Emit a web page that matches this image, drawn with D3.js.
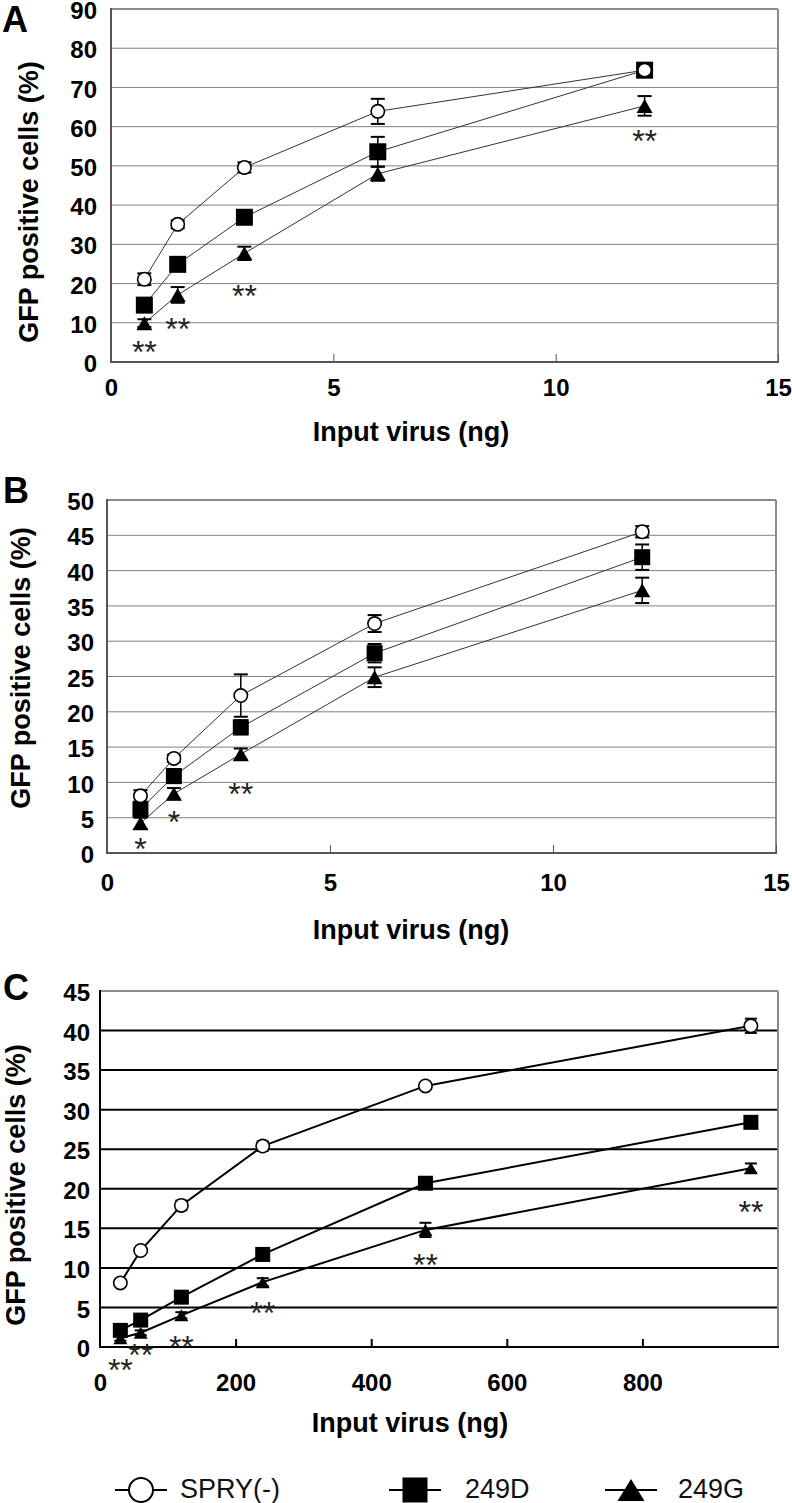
<!DOCTYPE html>
<html><head><meta charset="utf-8">
<script src="https://cdn.jsdelivr.net/npm/d3@7"></script>
<style>body{margin:0;background:#fff} svg{display:block}</style>
</head><body><svg id="c" width="792" height="1503"></svg>
<script>
// ---------- data ----------
const doseAB = [0.75, 1.5, 3, 6, 12];
const doseC = [30, 60, 120, 240, 480, 960];
const seriesNames = ["SPRY(-)", "249D", "249G"];

const A_spry = [21.1, 35.1, 49.6, 63.9, 74.4];
const A_249D = [14.5, 24.9, 36.9, 53.6, 74.4];
const A_249G = [9.9, 17.1, 27.7, 48.0, 65.3];
const A_spryErr = [1.5, 1.0, 1.3, 3.2, 1.0];
const A_249DErr = [1.0, 1.0, 1.0, 3.8, 0.8];
const A_249GErr = [1.0, 2.0, 1.7, 1.8, 2.5];
const A_sigX = [0.75, 1.5, 3, 12];
const A_sigY = [4.4, 10.3, 18.7, 58.3];
const A_sigText = ["**", "**", "**", "**"];

const B_spry = [8.1, 13.4, 22.3, 32.5, 45.5];
const B_249D = [6.2, 10.9, 17.8, 28.3, 41.9];
const B_249G = [4.2, 8.4, 14.0, 24.9, 37.2];
const B_spryErr = [0.8, 0.5, 3.0, 1.2, 0.8];
const B_249DErr = [1.0, 1.0, 1.0, 1.3, 1.8];
const B_249GErr = [0.8, 0.8, 0.8, 1.4, 1.8];
const B_sigX = [0.75, 1.5, 3];
const B_sigY = [1.6, 5.4, 9.4];
const B_sigText = ["*", "*", "**"];

const C_spry = [8.1, 12.2, 17.9, 25.4, 33.0, 40.6];
const C_249D = [2.1, 3.4, 6.3, 11.7, 20.7, 28.4];
const C_249G = [1.1, 1.8, 4.0, 8.2, 14.8, 22.6];
const C_spryErr = [0.3, 0.3, 0.6, 0.6, 0.3, 0.9];
const C_249DErr = [0.3, 0.3, 0.3, 0.3, 0.3, 0.5];
const C_249GErr = [0.3, 0.3, 0.4, 0.5, 0.9, 0.6];
const C_sigX = [30, 60, 120, 240, 480, 960];
const C_sigY = [-2.0, 0.0, 1.0, 5.3, 11.3, 18.0];
const C_sigText = ["**", "**", "**", "**", "**", "**"];

const yTicksA = [0, 10, 20, 30, 40, 50, 60, 70, 80, 90];
const yTicksB = [0, 5, 10, 15, 20, 25, 30, 35, 40, 45, 50];
const yTicksC = [0, 5, 10, 15, 20, 25, 30, 35, 40, 45];
const xTicksAB = [0, 5, 10, 15];
const xTicksC = [0, 200, 400, 600, 800];

const panelLabels = ["A", "B", "C"];
const yTitle = "GFP positive cells (%)";
const xTitle = "Input virus (ng)";

// ---------- drawing ----------
const svg = d3.select("#c");
const FONT = "'Liberation Sans', Arial, Helvetica, sans-serif";

function drawMarker(g, type, cx, cy, sz, sw) {
  if (type === 0) {
    g.append("circle").attr("cx", cx).attr("cy", cy).attr("r", sz.r)
      .attr("fill", "#fff").attr("stroke", "#000").attr("stroke-width", sw);
  } else if (type === 1) {
    g.append("rect").attr("x", cx - sz.sq / 2).attr("y", cy - sz.sq / 2)
      .attr("width", sz.sq).attr("height", sz.sq).attr("fill", "#000");
  } else {
    const w = sz.tw, h = sz.th;
    g.append("path").attr("d", `M${cx},${cy - h / 2}L${cx + w / 2},${cy + h / 2}L${cx - w / 2},${cy + h / 2}Z`)
      .attr("fill", "#000");
  }
}

function drawPanel(p) {
  const x = d3.scaleLinear().domain(p.xDomain).range([p.left, p.right]);
  const y = d3.scaleLinear().domain([0, p.yMax]).range([p.bottom, p.top]);
  const g = svg.append("g");

  // gridlines
  g.append("g").selectAll("line").data(p.yTicks.filter(v => v > 0 && v < p.yMax)).join("line")
    .attr("x1", p.left).attr("x2", p.right).attr("y1", d => y(d)).attr("y2", d => y(d))
    .attr("stroke", p.gridColor).attr("stroke-width", p.gridWidth);

  // frame
  g.append("line").attr("x1", p.left).attr("x2", p.right).attr("y1", p.top).attr("y2", p.top)
    .attr("stroke", "#8a8a8a").attr("stroke-width", 2);
  g.append("line").attr("x1", p.right).attr("x2", p.right).attr("y1", p.top).attr("y2", p.bottom)
    .attr("stroke", "#8a8a8a").attr("stroke-width", 2);
  g.append("line").attr("x1", p.left).attr("x2", p.left).attr("y1", p.top - 1).attr("y2", p.bottom + 1)
    .attr("stroke", p.axisColor).attr("stroke-width", 2);
  g.append("line").attr("x1", p.left).attr("x2", p.right + 1).attr("y1", p.bottom).attr("y2", p.bottom)
    .attr("stroke", p.axisColor).attr("stroke-width", 2);

  // y axis labels
  const ya = g.append("g").attr("transform", `translate(${p.left},0)`)
    .call(d3.axisLeft(y).tickValues(p.yTicks).tickSize(0).tickPadding(p.yPad).tickFormat(d3.format("d")));
  ya.select(".domain").remove();
  ya.selectAll("text").attr("dy", "0.4em").attr("font-family", FONT).attr("font-weight", "bold").attr("font-size", 24).attr("fill", "#000");

  // x axis
  const xa = g.append("g").attr("transform", `translate(0,${p.bottom})`)
    .call(d3.axisBottom(x).tickValues(p.xTicks).tickSizeInner(-8).tickSizeOuter(0).tickPadding(p.xPad).tickFormat(d3.format("d")));
  xa.select(".domain").remove();
  xa.selectAll(".tick line").attr("stroke", p.tickColor).attr("stroke-width", p.tickWidth)
    .attr("display", d => (d === p.xDomain[0] ? "none" : null));
  xa.selectAll("text").attr("font-family", FONT).attr("font-weight", "bold").attr("font-size", 24).attr("fill", "#000");

  // titles
  g.append("text").attr("x", p.xTitleX).attr("y", p.xTitleY).attr("text-anchor", "middle")
    .attr("font-family", FONT).attr("font-weight", "bold").attr("font-size", 27).text(xTitle);
  g.append("text").attr("transform", `translate(${p.yTitleX},${p.yTitleY}) rotate(-90)`).attr("text-anchor", "middle")
    .attr("font-family", FONT).attr("font-weight", "bold").attr("font-size", 27).text(yTitle);
  g.append("text").attr("x", p.labelX).attr("y", p.labelY)
    .attr("font-family", FONT).attr("font-weight", "bold").attr("font-size", 36).text(p.label);

  // lines
  const line = d3.line().x(d => x(d[0])).y(d => y(d[1]));
  p.series.forEach(s => {
    g.append("path").datum(p.dose.map((d, i) => [d, s.values[i]])).attr("d", line)
      .attr("fill", "none").attr("stroke", p.lineColor).attr("stroke-width", p.lineWidth);
  });

  // error bars
  const cap = p.capW / 2;
  p.series.forEach(s => {
    p.dose.forEach((d, i) => {
      const cx = x(d), y0 = y(s.values[i] - s.err[i]), y1 = y(s.values[i] + s.err[i]);
      g.append("line").attr("x1", cx).attr("x2", cx).attr("y1", y0).attr("y2", y1).attr("stroke", "#000").attr("stroke-width", 1.5);
      [y0, y1].forEach(yy => g.append("line").attr("x1", cx - cap).attr("x2", cx + cap).attr("y1", yy).attr("y2", yy)
        .attr("stroke", "#000").attr("stroke-width", 2));
    });
  });

  // markers (draw 249G, 249D, SPRY)
  [2, 1, 0].forEach(k => {
    const s = p.series[k];
    p.dose.forEach((d, i) => drawMarker(g, k, x(d), y(s.values[i]), p.msize, 1.6));
  });

  // significance marks
  p.sigX.forEach((sx, i) => {
    g.append("text").attr("x", x(sx)).attr("y", y(p.sigY[i])).attr("dy", "0.58em").attr("text-anchor", "middle")
      .attr("font-family", FONT).attr("font-size", 32).attr("fill", "#222").text(p.sigText[i]);
  });
}

drawPanel({
  label: panelLabels[0], labelX: 2, labelY: 32,
  left: 111, right: 778, top: 9, bottom: 362, xDomain: [0, 15], yMax: 90,
  yTicks: yTicksA, xTicks: xTicksAB, yPad: 14, xPad: 17,
  gridColor: "#808080", gridWidth: 1, axisColor: "#555", tickColor: "#555", tickWidth: 1,
  lineColor: "#333", lineWidth: 1, capW: 14,
  xTitleX: 411, xTitleY: 441, yTitleX: 38, yTitleY: 202,
  dose: doseAB,
  series: [
    { values: A_spry, err: A_spryErr },
    { values: A_249D, err: A_249DErr },
    { values: A_249G, err: A_249GErr }
  ],
  msize: { r: 6.7, sq: 17, tw: 16, th: 14 },
  sigX: A_sigX, sigY: A_sigY, sigText: A_sigText
});

drawPanel({
  label: panelLabels[1], labelX: 3, labelY: 503,
  left: 107, right: 776, top: 500, bottom: 853, xDomain: [0, 15], yMax: 50,
  yTicks: yTicksB, xTicks: xTicksAB, yPad: 13, xPad: 21,
  gridColor: "#808080", gridWidth: 1, axisColor: "#555", tickColor: "#555", tickWidth: 1,
  lineColor: "#333", lineWidth: 1, capW: 14,
  xTitleX: 411, xTitleY: 939, yTitleX: 30, yTitleY: 668,
  dose: doseAB,
  series: [
    { values: B_spry, err: B_spryErr },
    { values: B_249D, err: B_249DErr },
    { values: B_249G, err: B_249GErr }
  ],
  msize: { r: 6.7, sq: 16, tw: 16, th: 14 },
  sigX: B_sigX, sigY: B_sigY, sigText: B_sigText
});

drawPanel({
  label: panelLabels[2], labelX: 3, labelY: 1000,
  left: 100, right: 778, top: 991, bottom: 1347, xDomain: [0, 1000], yMax: 45,
  yTicks: yTicksC, xTicks: xTicksC, yPad: 10, xPad: 27,
  gridColor: "#000", gridWidth: 2, axisColor: "#000", tickColor: "#000", tickWidth: 2,
  lineColor: "#000", lineWidth: 2, capW: 12,
  xTitleX: 410, xTitleY: 1432, yTitleX: 25, yTitleY: 1185,
  dose: doseC,
  series: [
    { values: C_spry, err: C_spryErr },
    { values: C_249D, err: C_249DErr },
    { values: C_249G, err: C_249GErr }
  ],
  msize: { r: 6.7, sq: 15, tw: 14, th: 12 },
  sigX: C_sigX, sigY: C_sigY, sigText: C_sigText
});

// ---------- legend ----------
const legX = d3.scaleOrdinal(seriesNames, [141, 415, 631]);
const legY = 1490;
const leg = svg.append("g");
seriesNames.forEach((name, k) => {
  const cx = legX(name);
  leg.append("line").attr("x1", cx - 26).attr("x2", cx + 26).attr("y1", legY).attr("y2", legY)
    .attr("stroke", "#000").attr("stroke-width", 2);
  drawMarker(leg, k, cx, legY, { r: 12, sq: 25, tw: 27, th: 22 }, 2);
  leg.append("text").attr("x", cx + (k === 0 ? 39 : k === 1 ? 50 : 47)).attr("y", legY + 8)
    .attr("font-family", FONT).attr("font-size", 27).attr("fill", "#111").text(name);
});
</script>
</body></html>
